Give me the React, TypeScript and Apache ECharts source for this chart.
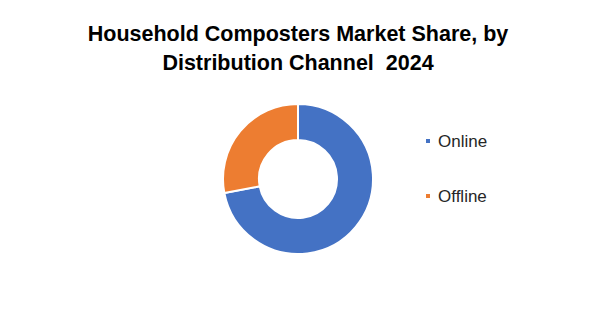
import React, { useEffect, useRef } from "react";
import * as echarts from "echarts";

const titleLines = ["Household Composters Market Share, by", "Distribution Channel  2024"];
const categories = ["Online", "Offline"];
const shares = [72, 28];
const colors = ["#4472C4", "#ED7D31"];

export default function App() {
  const ref = useRef<HTMLDivElement>(null);
  useEffect(() => {
    if (!ref.current) return;
    const chart = echarts.init(ref.current, undefined, { renderer: "svg" });
    chart.setOption({
      animation: false,
      backgroundColor: "#ffffff",
      title: {
        text: titleLines.join("\n"),
        left: "center",
        top: 19,
        padding: 0,
        textStyle: {
          fontFamily: "Liberation Sans, Arial, sans-serif",
          fontWeight: "bold",
          fontSize: 21.5,
          lineHeight: 29.3,
          color: "#000000",
        },
      },
      legend: {
        orient: "vertical",
        left: 424,
        top: 131,
        padding: 0,
        icon: "rect",
        itemWidth: 6,
        itemHeight: 6,
        itemGap: 35,
        data: categories,
        textStyle: {
          fontFamily: "Liberation Sans, Arial, sans-serif",
          fontSize: 17,
          lineHeight: 20,
          color: "#262626",
          padding: [0, 0, 0, 2],
        },
      },
      series: [
        {
          type: "pie",
          center: [298, 179],
          radius: [39, 75],
          startAngle: 90,
          clockwise: true,
          label: { show: false },
          labelLine: { show: false },
          itemStyle: { borderColor: "#ffffff", borderWidth: 2 },
          emphasis: { disabled: true },
          data: categories.map((name, i) => ({
            name,
            value: shares[i],
            itemStyle: { color: colors[i] },
          })),
        },
      ],
    });
    return () => chart.dispose();
  }, []);
  return (
    <div
      ref={ref}
      style={{ position: "absolute", left: 0, top: 0, width: 596, height: 326 }}
    />
  );
}
